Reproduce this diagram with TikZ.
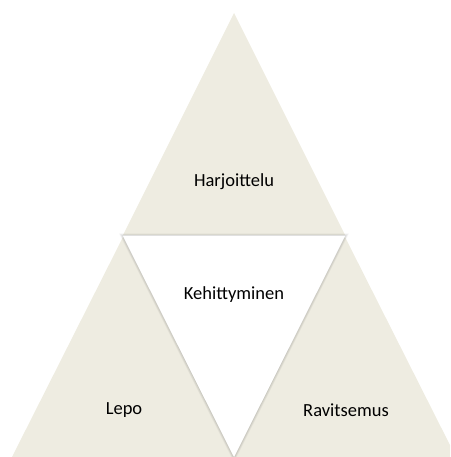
\documentclass[tikz,border=0pt]{standalone}
\usepackage{fontspec}
\setmainfont{Carlito}
\usepackage{tikz}
\usetikzlibrary{calc, positioning}
\definecolor{beige}{HTML}{EEECE1}

\begin{document}
\begin{tikzpicture}[x=1pt, y=1pt]
% TikZ styles
\tikzset{
  piece/.style={fill=beige, draw=none},
  centre/.style={fill=white, draw=none},
  halo/.style={draw=black, line join=miter, opacity=0.03},
  label/.style={font=\fontsize{18.5}{22}\selectfont, text=black, inner sep=0pt}
};
\useasboundingbox (0,0) rectangle (450,457);
\clip (0,0) rectangle (450,457);

%==========================
% Eckpunkte
%==========================
\coordinate (top)   at (234,444);
\coordinate (midl)  at (123,221);
\coordinate (midr)  at (345,221);
\coordinate (botl)  at (12,0);
\coordinate (botm)  at (234,0);
\coordinate (botr)  at (456,0);

% === Dreiecke ===
\fill[piece] (top) -- ($(midl)+(0,1)$) -- ($(midr)+(0,1)$) -- cycle;
\fill[piece] ($(midl)+(0,-1)$) -- (botl) -- (botm) -- cycle;
\fill[piece] ($(midr)+(0,-1)$) -- (botm) -- (botr) -- cycle;

% === Schatten ===
\foreach \w in {1,2,3,4,5}
  \draw[halo, line width=\w pt] (midl) -- (midr) -- (botm) -- cycle;
\fill[centre] (midl) -- (midr) -- (botm) -- cycle;

% === Texte ===
\node[label] (training)    at (234,275) {Harjoittelu};
\node[label] (development) at (234,162) {Kehittyminen};
\node[label] (rest)        at (124,47)  {Lepo};
\node[label] (nutrition)   at (346,47)  {Ravitsemus};
\end{tikzpicture}
\end{document}
